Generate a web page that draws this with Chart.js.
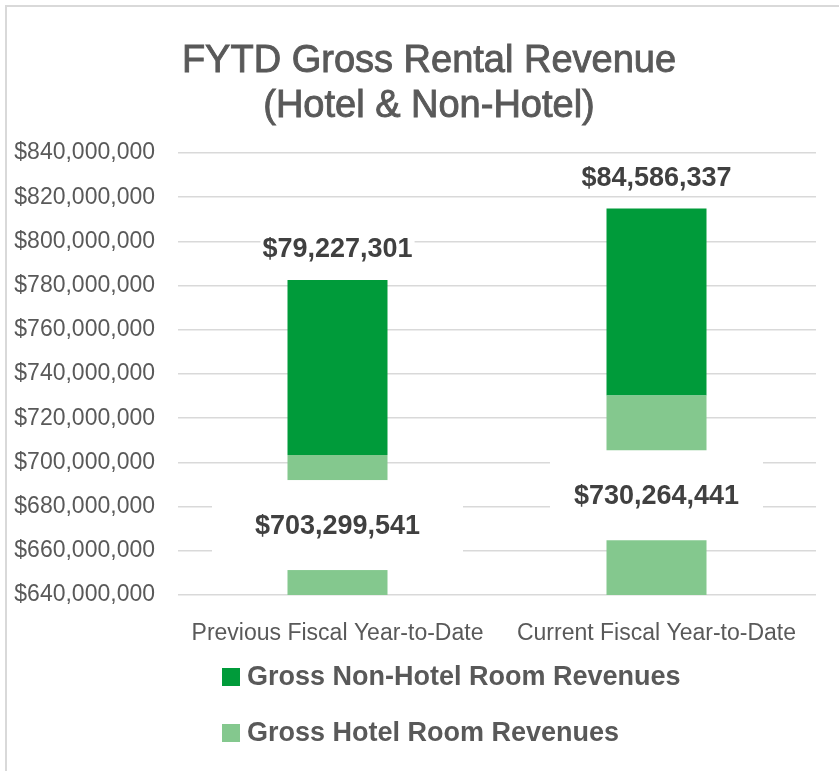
<!DOCTYPE html>
<html>
<head>
<meta charset="utf-8">
<script src="https://cdn.jsdelivr.net/npm/chart.js@4"></script>
<style>
  html, body { margin: 0; padding: 0; background: #fff; }
  #frame {
    position: absolute; left: 5px; top: 5px; width: 834px; height: 766px;
    border-left: 2px solid #d9d9d9; border-top: 2px solid #d9d9d9;
  }
  #wrap { position: absolute; left: 0; top: 0; width: 839px; height: 771px; }
</style>
</head>
<body>
<div id="frame"></div>
<div id="wrap"><canvas id="chart" width="839" height="771"></canvas></div>
<script>
// Categories and series values (USD)
const categories = ['Previous Fiscal Year-to-Date', 'Current Fiscal Year-to-Date'];
const hotelRevenues = [703299541, 730264441];
const nonHotelRevenues = [79227301, 84586337];
const seriesNames = ['Gross Hotel Room Revenues', 'Gross Non-Hotel Room Revenues'];
const titleLines = ['FYTD Gross Rental Revenue', '(Hotel & Non-Hotel)'];

const TEXT = '#595959';
const LABEL = '#404040';
const FONT = "'Liberation Sans', Arial, sans-serif";
const money = v => '$' + Number(v).toLocaleString('en-US');

// Title drawn by hand so it can sit slightly right of canvas centre, like the original
const titlePlugin = {
  id: 'titleLines',
  afterDraw(chart) {
    const ctx = chart.ctx;
    ctx.save();
    ctx.fillStyle = TEXT;
    ctx.strokeStyle = TEXT;
    ctx.lineWidth = 0.9;
    ctx.font = `38px ${FONT}`;
    ctx.textAlign = 'center';
    ctx.textBaseline = 'middle';
    titleLines.forEach((t, i) => {
      ctx.fillText(t, 429, 62 + i * 45);
      ctx.strokeText(t, 429, 62 + i * 45); // a touch heavier, like the source
    });
    ctx.restore();
  }
};

// Value labels; hotel labels get a white box that cuts through the bar
const valueLabels = {
  id: 'valueLabels',
  afterDatasetsDraw(chart, args, opts) {
    const ctx = chart.ctx;
    const area = chart.chartArea;
    ctx.save();
    ctx.font = `bold 27px ${FONT}`;
    ctx.textAlign = 'center';
    ctx.textBaseline = 'middle';
    chart.data.datasets.forEach((ds, di) => {
      const meta = chart.getDatasetMeta(di);
      meta.data.forEach((bar, i) => {
        const text = money(ds.data[i]);
        const top = Math.max(bar.y, area.top);
        const bottom = Math.min(bar.base, area.bottom);
        let cy;
        if (di === 0) {
          cy = (top + bottom) / 2;
          const w = opts.boxWidths[i];
          ctx.fillStyle = '#fff';
          ctx.fillRect(bar.x - w / 2, cy - opts.boxHeight / 2, w, opts.boxHeight);
        } else {
          cy = top - opts.topOffset;
          const w = ctx.measureText(text).width + 4;
          ctx.fillStyle = '#fff';
          ctx.fillRect(bar.x - w / 2, cy - 12, w, 24);
        }
        ctx.fillStyle = LABEL;
        ctx.fillText(text, bar.x, cy + 1);
      });
    });
    ctx.restore();
  }
};

// Vertical legend, non-hotel first
const legendPlugin = {
  id: 'stackLegend',
  afterDraw(chart) {
    const ctx = chart.ctx;
    ctx.save();
    ctx.font = `bold 27px ${FONT}`;
    ctx.textBaseline = 'middle';
    const order = [1, 0];
    order.forEach((di, row) => {
      const ds = chart.data.datasets[di];
      const y = 677 + row * 56;
      ctx.fillStyle = ds.backgroundColor;
      ctx.fillRect(222, y - 9, 18, 18);
      ctx.fillStyle = TEXT;
      ctx.fillText(ds.label, 247, y + 1);
    });
    ctx.restore();
  }
};

new Chart(document.getElementById('chart'), {
  type: 'bar',
  data: {
    labels: categories,
    datasets: [
      {
        label: seriesNames[0],
        data: hotelRevenues,
        backgroundColor: '#84c88e',
        barPercentage: 0.3135,
        categoryPercentage: 1,
      },
      {
        label: seriesNames[1],
        data: nonHotelRevenues,
        backgroundColor: '#009b3a',
        barPercentage: 0.3135,
        categoryPercentage: 1,
      },
    ],
  },
  options: {
    responsive: false,
    animation: false,
    layout: { padding: { top: 153, right: 23, bottom: 0, left: 0 } },
    plugins: {
      legend: { display: false },
      title: { display: false },
      tooltip: { enabled: false },
      valueLabels: { boxWidths: [251, 213], boxHeight: 90, topOffset: 31 },
    },
    scales: {
      x: {
        stacked: true,
        grid: { display: false },
        border: { display: false },
        ticks: { color: TEXT, font: { family: FONT, size: 23 }, padding: 17, maxRotation: 0 },
        afterFit(scale) { scale.height = 176; },
      },
      y: {
        stacked: true,
        min: 640000000,
        max: 840000000,
        ticks: {
          stepSize: 20000000,
          color: TEXT,
          font: { family: FONT, size: 23 },
          padding: 23,
          callback: v => money(v),
        },
        grid: { color: '#d9d9d9', lineWidth: 1.5, drawTicks: false },
        border: { display: false },
        afterFit(scale) { scale.width = 178; },
      },
    },
  },
  plugins: [valueLabels, titlePlugin, legendPlugin],
});
</script>
</body>
</html>
